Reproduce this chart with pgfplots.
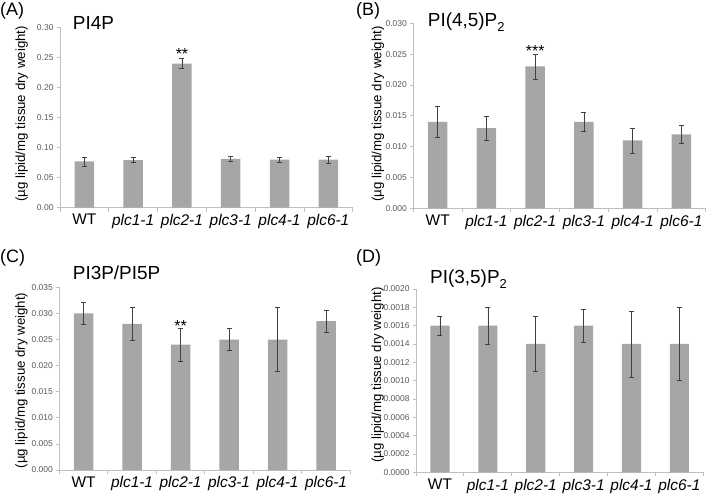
\documentclass[border=0pt]{standalone}
\usepackage{pgfplots}
\pgfplotsset{compat=1.18}
\usepackage{pgfplotstable}
\usepackage{fontspec}
\setmainfont{Liberation Sans}

\definecolor{bargray}{HTML}{A6A6A6}
\definecolor{linegray}{HTML}{BFBFBF}
\definecolor{tickgray}{HTML}{595959}
\definecolor{errgray}{HTML}{404040}

\pgfplotstableread{
x y e
0 0.0770 0.0075
1 0.0792 0.0042
2 0.2398 0.0083
3 0.0813 0.0036
4 0.0798 0.0045
5 0.0800 0.0055
}\dataA
\pgfplotstableread{
x y e
0 0.0140 0.0025
1 0.0130 0.0020
2 0.0230 0.0020
3 0.0140 0.0015
4 0.0110 0.0020
5 0.0120 0.0015
}\dataB
\pgfplotstableread{
x y e
0 0.0300 0.0021
1 0.0280 0.0031
2 0.0240 0.0031
3 0.0250 0.0021
4 0.0250 0.0061
5 0.0285 0.0021
}\dataC
\pgfplotstableread{
x y e
0 0.00160 0.00010
1 0.00160 0.00020
2 0.00140 0.00030
3 0.00160 0.00018
4 0.00140 0.00036
5 0.00140 0.00040
}\dataD

\pgfplotsset{
  panel/.style={
    scale only axis,
    axis lines*=left,
    axis line style={draw=linegray, line width=0.8pt},
    xmin=-0.5, xmax=5.5, ymin=0,
    xtick={0,...,5},
    xticklabels={WT,\textit{plc1-1},\textit{plc2-1},\textit{plc3-1},\textit{plc4-1},\textit{plc6-1}},
    minor xtick={-0.5,0.5,...,5.5},
    major x tick style={draw=none},
    minor x tick style={draw=linegray, line width=0.8pt},
    y tick style={draw=linegray, line width=0.8pt},
    tick align=outside,
    major tick length=3bp,
    minor tick length=4bp,
    /pgf/number format/assume math mode=true,
    yticklabel style={font=\fontsize{8.5}{10}\selectfont, text=tickgray},
    xticklabel style={font=\fontsize{15.5}{18}\selectfont, text=black},
    scaled y ticks=false,
    ylabel={(µg lipid/mg tissue dry weight)},
    ylabel style={anchor=south, inner sep=0pt, font=\fontsize{13.3}{15}\selectfont},
  },
  barplot/.style={
    ybar, bar width=0.4, bar shift=0pt, fill=bargray, draw=none,
    error bars/.cd, y dir=both, y explicit,
    error bar style={draw=errgray, line width=0.6pt},
    error mark options={draw=errgray, line width=0.6pt, mark size=2.5bp, rotate=90},
  },
}

\begin{document}
\begin{tikzpicture}
\useasboundingbox (0,0) rectangle (712bp,-495bp);

% Panel A
\begin{axis}[panel, at={(60bp,-207.7bp)}, anchor=south west,
  width=292.7bp, height=180.4bp, ymax=0.30, ytick={0,0.05,...,0.30},
  yticklabel style={/pgf/number format/.cd, fixed, fixed zerofill, precision=2},
  ylabel style={at={(axis description cs:-0.109,0.52)}}]
\addplot[barplot] table[x=x, y=y, y error=e] {\dataA};
\node[anchor=base, font=\fontsize{16}{16}\selectfont] at (axis cs:2,0.2463) {**};
\end{axis}

% Panel B
\begin{axis}[panel, at={(413.3bp,-208.3bp)}, anchor=south west,
  width=292.5bp, height=185bp, ymax=0.030, ytick={0,0.005,...,0.031},
  yticklabel style={/pgf/number format/.cd, fixed, fixed zerofill, precision=3},
  ylabel style={at={(axis description cs:-0.099,0.51)}}]
\addplot[barplot] table[x=x, y=y, y error=e] {\dataB};
\node[anchor=base, font=\fontsize{16}{16}\selectfont] at (axis cs:2,0.02463) {***};
\end{axis}

% Panel C
\begin{axis}[panel, at={(59.3bp,-470bp)}, anchor=south west,
  width=291bp, height=182.7bp, ymax=0.035, ytick={0,0.005,...,0.036},
  yticklabel style={/pgf/number format/.cd, fixed, fixed zerofill, precision=3},
  ylabel style={at={(axis description cs:-0.108,0.49)}}]
\addplot[barplot] table[x=x, y=y, y error=e] {\dataC};
\node[anchor=base, font=\fontsize{16}{16}\selectfont] at (axis cs:2,0.02655) {**};
\end{axis}

% Panel D
\begin{axis}[panel, at={(416bp,-472.3bp)}, anchor=south west,
  width=287.3bp, height=183.3bp, ymax=0.0020, ytick={0,0.0002,...,0.00201},
  yticklabel style={/pgf/number format/.cd, fixed, fixed zerofill, precision=4},
  ylabel style={at={(axis description cs:-0.111,0.53)}}]
\addplot[barplot] table[x=x, y=y, y error=e] {\dataD};
\end{axis}

% panel letters and titles
\node[anchor=base west, inner sep=0pt, font=\fontsize{18}{18}\selectfont] at (0bp,-15bp) {(A)};
\node[anchor=base west, inner sep=0pt, font=\fontsize{18}{18}\selectfont] at (356bp,-15bp) {(B)};
\node[anchor=base west, inner sep=0pt, font=\fontsize{18}{18}\selectfont] at (0bp,-262bp) {(C)};
\node[anchor=base west, inner sep=0pt, font=\fontsize{18}{18}\selectfont] at (356bp,-262bp) {(D)};

\node[anchor=base west, inner sep=0pt, font=\fontsize{19}{19}\selectfont] at (72.7bp,-29.3bp) {PI4P};
\node[anchor=base west, inner sep=0pt, font=\fontsize{19}{19}\selectfont] at (427.7bp,-26.7bp) {PI(4,5)P\raisebox{-0.25em}{\fontsize{13}{13}\selectfont 2}};
\node[anchor=base west, inner sep=0pt, font=\fontsize{19}{19}\selectfont] at (72.7bp,-279.3bp) {PI3P/PI5P};
\node[anchor=base west, inner sep=0pt, font=\fontsize{19}{19}\selectfont] at (430bp,-283.3bp) {PI(3,5)P\raisebox{-0.25em}{\fontsize{13}{13}\selectfont 2}};
\end{tikzpicture}
\end{document}
